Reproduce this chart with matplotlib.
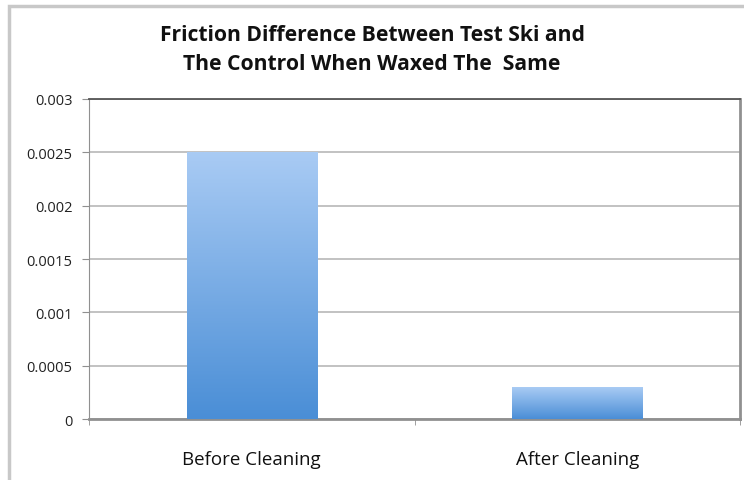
import matplotlib.pyplot as plt
import numpy as np
from matplotlib.patches import Rectangle
from matplotlib.colors import LinearSegmentedColormap

categories = ["Before Cleaning", "After Cleaning"]
friction_diff = [0.0025, 0.0003]
y_ticks = [0, 0.0005, 0.001, 0.0015, 0.002, 0.0025, 0.003]
y_tick_labels = ["0", "0.0005", "0.001", "0.0015", "0.002", "0.0025", "0.003"]

plt.rcParams["font.family"] = ["Open Sans", "DejaVu Sans"]

fig = plt.figure(figsize=(7.44, 4.81), dpi=100)
fig.patches.append(Rectangle((9 / 744, -0.1), 1.2, 1.1 - 7 / 481, transform=fig.transFigure,
                             fill=False, edgecolor="#c8c8c8", linewidth=2.5))
ax = fig.add_axes([89 / 744, 1 - 420 / 481, (740 - 89) / 744, 320 / 481])

x = np.arange(len(categories))
bars = ax.bar(x, friction_diff, width=0.40, color="none", edgecolor="none", zorder=3)

# vertical gradient, light on top, darker at the bottom
cmap = LinearSegmentedColormap.from_list("excel_blue", ["#4a8ed6", "#a9cbf4"])
grad = np.linspace(0, 1, 256).reshape(-1, 1)
for b in bars:
    x0, y0 = b.get_x(), b.get_y()
    im = ax.imshow(grad, cmap=cmap, origin="lower", aspect="auto",
                   extent=[x0, x0 + b.get_width(), y0, y0 + b.get_height()], zorder=3)
    im.set_clip_path(b)

ax.set_xlim(-0.5, 1.5)
ax.set_ylim(0, 0.003)
ax.set_yticks(y_ticks)
ax.set_yticklabels(y_tick_labels, fontsize=10.5, color="#222222")
ax.set_xticks(x)
ax.set_xticklabels(categories, fontsize=13.5, color="#111111")
ax.set_xticks([-0.5, 0.5, 1.5], minor=True)
ax.tick_params(axis="x", which="major", length=0, pad=22)
ax.tick_params(axis="x", which="minor", length=4, color="#909090", direction="out")
ax.tick_params(axis="y", length=5, color="#909090", direction="out", pad=7)

ax.grid(axis="y", color="#b8b8b8", linewidth=1.2, zorder=0)
ax.set_axisbelow(True)
ax.spines["top"].set_color("#555555")
ax.spines["top"].set_linewidth(1.3)
ax.spines["left"].set_color("#909090")
ax.spines["bottom"].set_color("#909090")
ax.spines["bottom"].set_linewidth(2)
ax.spines["right"].set_color("#909090")
ax.spines["right"].set_linewidth(2)

fig.text(0.5, 1 - 50 / 481, "Friction Difference Between Test Ski and\nThe Control When Waxed The  Same",
         ha="center", va="center", fontsize=15.2, fontweight="bold", linespacing=1.5,
         color="#111111")

fig.savefig("out.png", dpi=100)
